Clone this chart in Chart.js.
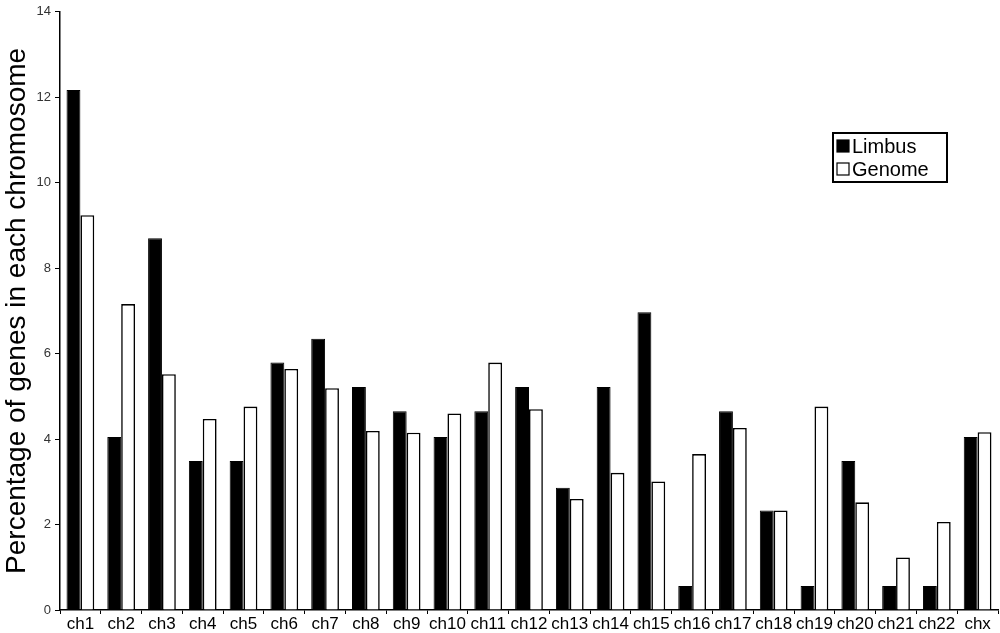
<!DOCTYPE html>
<html lang="en">
<head>
    <meta charset="UTF-8">
    <title>Genes per chromosome</title>
    <script src="https://cdn.jsdelivr.net/npm/chart.js"></script>
    <style>
        body { margin: 0; background: #fff; }
        #wrap { width: 1000px; height: 633px; }
    </style>
</head>
<body>
    <div id="wrap"><canvas id="myChart"></canvas></div>

    <script>
        const chromosomes = ['ch1', 'ch2', 'ch3', 'ch4', 'ch5', 'ch6', 'ch7', 'ch8', 'ch9', 'ch10', 'ch11', 'ch12',
            'ch13', 'ch14', 'ch15', 'ch16', 'ch17', 'ch18', 'ch19', 'ch20', 'ch21', 'ch22', 'chx'];
        const limbus = [12.17, 4.05, 8.70, 3.49, 3.49, 5.79, 6.35, 5.22, 4.65, 4.05, 4.65, 5.22,
            2.86, 5.22, 6.97, 0.56, 4.65, 2.33, 0.56, 3.49, 0.56, 0.56, 4.05];
        const genome = [9.24, 7.16, 5.52, 4.47, 4.76, 5.64, 5.19, 4.19, 4.15, 4.60, 5.79, 4.70,
            2.60, 3.21, 3.01, 3.65, 4.26, 2.33, 4.76, 2.52, 1.23, 2.06, 4.16];
        const yTicks = [0, 2, 4, 6, 8, 10, 12, 14];

        const fontName = "'Liberation Sans', Arial, sans-serif";

        // legend box drawn by hand, top right
        const boxLegend = {
            id: 'boxLegend',
            afterDraw(chart) {
                const ctx = chart.ctx;
                const x = 833, y = 133, w = 114, h = 49;
                ctx.save();
                ctx.fillStyle = '#fff';
                ctx.fillRect(x, y, w, h);
                ctx.lineWidth = 2;
                ctx.strokeStyle = '#000';
                ctx.strokeRect(x, y, w, h);
                ctx.font = '20px ' + fontName;
                ctx.textBaseline = 'middle';
                chart.data.datasets.forEach((ds, i) => {
                    const cy = y + 13 + i * 23;
                    ctx.fillStyle = ds.backgroundColor;
                    ctx.fillRect(x + 4, cy - 6, 12, 12);
                    ctx.lineWidth = 1.2;
                    ctx.strokeRect(x + 4, cy - 6, 12, 12);
                    ctx.fillStyle = '#000';
                    ctx.fillText(ds.label, x + 19, cy + 1);
                });
                ctx.restore();
            }
        };

        const ctx = document.getElementById('myChart').getContext('2d');
        new Chart(ctx, {
            type: 'bar',
            data: {
                labels: chromosomes,
                datasets: [{
                    label: 'Limbus',
                    data: limbus,
                    backgroundColor: '#000000',
                    borderColor: '#000',
                    borderWidth: 1
                }, {
                    label: 'Genome',
                    data: genome,
                    backgroundColor: '#ffffff',
                    borderColor: '#000',
                    borderWidth: 1.6
                }]
            },
            options: {
                responsive: true,
                maintainAspectRatio: false,
                animation: false,
                layout: { padding: { top: 8, right: 2, left: 0, bottom: 0 } },
                datasets: {
                    bar: { categoryPercentage: 0.68, barPercentage: 1.0 }
                },
                plugins: {
                    legend: { display: false },
                    tooltip: { enabled: false }
                },
                scales: {
                    x: {
                        grid: { display: true, drawOnChartArea: false, drawTicks: true, tickLength: 4, color: '#000', offset: true },
                        border: { display: true, color: '#000', width: 1.5 },
                        ticks: { color: '#000', font: { family: fontName, size: 17 }, padding: 0, maxRotation: 0, autoSkip: false },
                        afterFit(scale) { scale.height = 23; }
                    },
                    y: {
                        min: 0,
                        max: 14,
                        afterBuildTicks(scale) { scale.ticks = yTicks.map(v => ({ value: v })); },
                        grid: { display: true, drawOnChartArea: false, drawTicks: true, tickLength: 5, color: '#000' },
                        border: { display: true, color: '#000', width: 1.5 },
                        ticks: { color: '#333', font: { family: fontName, size: 13 }, padding: 4 },
                        title: {
                            display: true,
                            text: 'Percentage of genes in each chromosome',
                            color: '#000',
                            font: { family: fontName, size: 28 },
                            padding: 0
                        },
                        afterFit(scale) { scale.width = 60; }
                    }
                }
            },
            plugins: [boxLegend]
        });
    </script>
</body>
</html>
